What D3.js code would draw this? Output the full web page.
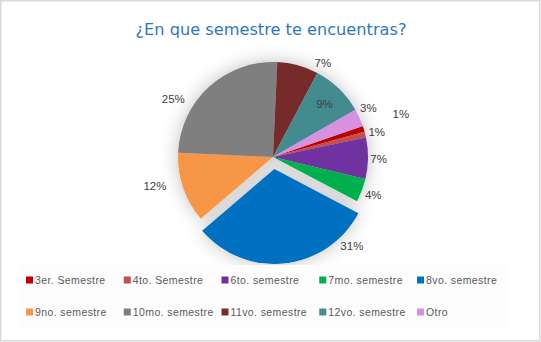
<!DOCTYPE html>
<html>
<head>
<meta charset="utf-8">
<script src="https://cdn.jsdelivr.net/npm/d3@7"></script>
<style>
  html, body { margin: 0; padding: 0; background: #fff; }
  svg { display: block; }
</style>
</head>
<body>
<div id="chart"></div>
<script>
// chart values
const categories = ["3er. Semestre", "4to. Semestre", "6to. semestre", "7mo. semestre", "8vo. semestre",
                    "9no. semestre", "10mo. semestre", "11vo. semestre", "12vo. semestre", "Otro"];
const percents = [1, 1, 7, 4, 31, 12, 25, 7, 9, 3];
const colors = ["#C00000", "#C0504D", "#7030A0", "#00B050", "#0070C0",
                "#F79646", "#7F7F7F", "#772C2A", "#438C8F", "#D890E0"];

const width = 541, height = 342;
const cx = 273, cy = 157, radius = 95;
const explodeIndex = 4;

// label nudges (Excel best fit moved a few labels), degrees / px
const labelTweak = {
    0: {da: -1.6, dr: 28},
    6: {da: -17.6, dr: 5},
    5: {da: 5, dr: 12},
    7: {da: 12.6, dr: 0},
    9: {da: -3, dr: 0},
    4: {da: -38.6, dr: 0}
};

const svg = d3.select("#chart").append("svg")
    .attr("width", width)
    .attr("height", height);

// soft shadow like the excel effect
const defs = svg.append("defs");
const f = defs.append("filter").attr("id", "shadow")
    .attr("x", "-40%").attr("y", "-40%").attr("width", "180%").attr("height", "180%");
f.append("feGaussianBlur").attr("in", "SourceAlpha").attr("stdDeviation", 9).attr("result", "blur");
f.append("feFlood").attr("flood-color", "#000").attr("flood-opacity", 0.25).attr("result", "col");
f.append("feComposite").attr("in", "col").attr("in2", "blur").attr("operator", "in").attr("result", "sh");
const merge = f.append("feMerge");
merge.append("feMergeNode").attr("in", "sh");
merge.append("feMergeNode").attr("in", "SourceGraphic");

// border
svg.append("rect")
    .attr("x", 0.75).attr("y", 0.75)
    .attr("width", width - 2).attr("height", height - 2)
    .attr("fill", "#fff")
    .attr("stroke", "#D9D9D9")
    .attr("stroke-width", 1.5);

// title
svg.append("text")
    .attr("x", 271).attr("y", 35)
    .attr("text-anchor", "middle")
    .attr("font-family", "'DejaVu Sans', sans-serif")
    .attr("font-size", 16)
    .attr("fill", "#2E78BE")
    .attr("textLength", 271)
    .attr("lengthAdjust", "spacingAndGlyphs")
    .text("¿En que semestre te encuentras?");

const startAngle = 71 * Math.PI / 180;
const pie = d3.pie().sort(null).startAngle(startAngle).endAngle(startAngle + 2 * Math.PI);
const arcs = pie(percents);
const arc = d3.arc().innerRadius(0).outerRadius(radius);

const pieG = svg.append("g")
    .attr("transform", `translate(${cx},${cy})`)
    .attr("filter", "url(#shadow)");

function offsetOf(d, i) {
    if (i !== explodeIndex) return [0, 0];
    const mid = (d.startAngle + d.endAngle) / 2;
    return [Math.sin(mid) * 12, -Math.cos(mid) * 12];
}

pieG.selectAll("path")
    .data(arcs)
    .join("path")
    .attr("d", arc)
    .attr("transform", (d, i) => { const o = offsetOf(d, i); return `translate(${o[0]},${o[1]})`; })
    .attr("fill", (d, i) => colors[i]);

// data labels
const labelG = svg.append("g").attr("transform", `translate(${cx},${cy})`);
labelG.selectAll("text")
    .data(arcs)
    .join("text")
    .attr("font-family", "'Liberation Sans', Arial, sans-serif")
    .attr("font-size", 11.5)
    .attr("fill", "#404040")
    .attr("text-anchor", "middle")
    .attr("dy", "0.35em")
    .each(function(d, i) {
        const o = offsetOf(d, i);
        const t = labelTweak[i] || {da: 0, dr: 0};
        const a = (d.startAngle + d.endAngle) / 2 + t.da * Math.PI / 180;
        const s = Math.sin(a), c = -Math.cos(a);
        let x, y;
        if (i === 8) {
            // inside label
            x = s * radius * 0.78; y = c * radius * 0.78;
        } else {
            const w = (String(percents[i]).length + 1) * 6 + 3;
            const proj = Math.abs(s) * w / 2 + Math.abs(c) * 6;
            const r = radius + 3 + proj + t.dr;
            x = s * r; y = c * r;
        }
        d3.select(this).attr("x", x + o[0]).attr("y", y + o[1]);
    })
    .text((d, i) => percents[i] + "%");

// legend
const legendG = svg.append("g");
legendG.append("rect")
    .attr("x", 18).attr("y", 265).attr("width", 488).attr("height", 63)
    .attr("fill", "#FDFDFD");
const colX = d3.scaleLinear().domain([0, 4]).range([26, 417]);
const rowY = d3.scaleLinear().domain([0, 1]).range([280, 312]);
const items = legendG.selectAll("g.item")
    .data(categories)
    .join("g")
    .attr("class", "item")
    .attr("transform", (d, i) => `translate(${colX(i % 5)},${rowY(Math.floor(i / 5))})`);
items.append("rect")
    .attr("x", 0).attr("y", -3.5).attr("width", 7).attr("height", 7)
    .attr("fill", (d, i) => colors[i]);
items.append("text")
    .attr("x", 9).attr("y", 4)
    .attr("font-family", "'Liberation Sans', Arial, sans-serif")
    .attr("font-size", 10.5)
    .attr("letter-spacing", 0.4)
    .attr("fill", "#595959")
    .text(d => d);
</script>
</body>
</html>
